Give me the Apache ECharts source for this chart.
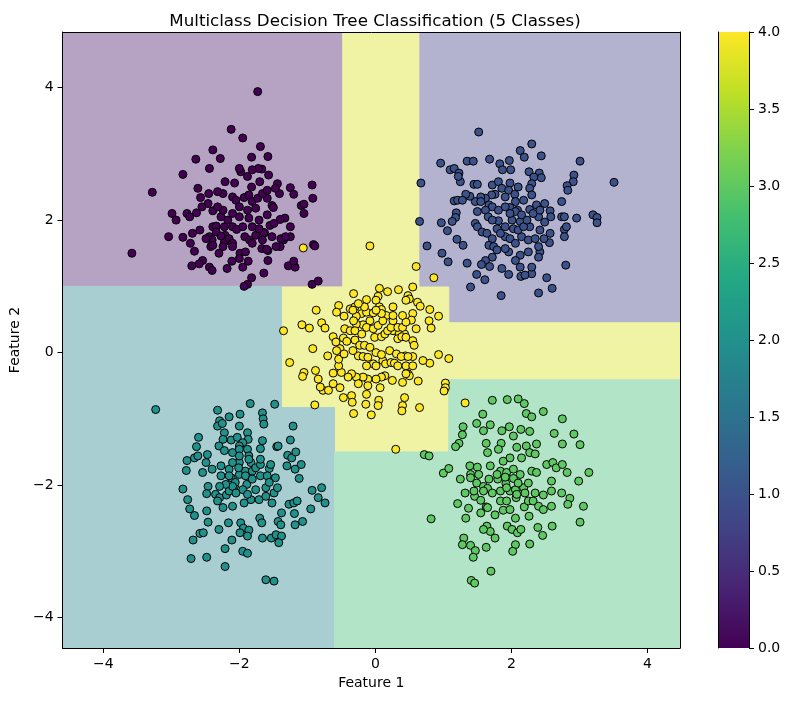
<!DOCTYPE html>
<html>
<head>
<meta charset="utf-8">
<script src="https://cdn.jsdelivr.net/npm/echarts@6/dist/echarts.min.js"></script>
<style>
html,body{margin:0;padding:0;background:#fff;}
#chart{width:790px;height:701px;}
</style>
</head>
<body>
<div id="chart"></div>
<script>
// ---------------- data ----------------
const chartTitle = 'Multiclass Decision Tree Classification (5 Classes)';
const xName = 'Feature 1';
const yName = 'Feature 2';
const xRange = [-4.60, 4.48];
const yRange = [-4.46, 4.84];
const tickValues = [-4, -2, 0, 2, 4];
const colorbarRange = [0, 4];

// decision regions: [x0, y0, x1, y1, class]
const regionRects = [
  [-5, 1.0, -0.48, 5, 0],
  [-0.48, 0.99, 0.655, 5, 4],
  [0.655, 0.99, 5, 5, 1],
  [1.08, 0.45, 5, 0.99, 1],
  [-1.38, -0.83, 1.08, 0.99, 4],
  [1.08, -0.41, 5, 0.45, 4],
  [-0.6, -1.50, 1.08, -0.83, 4],
  [-5, -5, -1.38, 1.0, 2],
  [-1.38, -5, -0.6, -0.83, 2],
  [-0.6, -5, 5, -1.50, 3],
  [1.08, -1.50, 5, -0.41, 3]
];

const class0 = [[-1.73,3.94],[-2.12,3.37],[-1.95,3.24],[-2.39,3.06],[-2.28,2.93],[-2.64,2.92],[-2.44,2.78],[-1.69,3.11],[-1.82,2.95],[-1.58,2.96],[-2.83,2.69],[-3.28,2.42],[-3.58,1.5],[-0.93,2.53],[-0.92,2.33],[-1.09,2.22],[-1.05,2.24],[-1.05,2.10],[-1.25,2.49],[-1.2,2.39],[-1.44,2.55],[-3.04,1.75],[-2.99,2.10],[-2.93,2.0],[-2.83,1.74],[-2.77,2.10],[-2.73,2.05],[-2.63,2.11],[-2.69,1.80],[-2.72,1.65],[-2.66,1.53],[-2.58,1.85],[-2.54,1.39],[-2.59,1.34],[-2.70,1.31],[-2.44,1.29],[-2.40,1.24],[-2.18,1.27],[-2.11,1.38],[-1.95,1.29],[-1.87,1.38],[-1.82,1.13],[-1.88,1.03],[-1.93,1.0],[-1.64,1.20],[-1.58,1.39],[-1.28,1.31],[-1.18,1.29],[-1.2,1.38],[-0.91,1.63],[-0.89,1.61],[-0.93,1.03],[-0.84,1.08],[-1.35,1.70],[-1.40,1.60],[-1.25,1.75],[-1.33,2.03],[-1.40,2.01],[-1.58,1.54],[-1.67,1.57],[-1.63,1.81],[-1.25,1.90],[-1.52,2.22],[-1.50,2.19],[-1.59,2.08],[-1.41,2.40],[-1.57,2.68],[-1.59,2.33],[-1.70,2.58],[-1.67,2.77],[-1.72,2.78],[-1.81,2.76],[-1.88,2.66],[-1.98,2.73],[-2.0,2.78],[-2.07,2.56],[-2.21,2.58],[-2.24,2.40],[-2.32,2.43],[-2.45,2.40],[-2.61,2.48],[-2.57,2.34],[-2.46,2.25],[-2.55,2.20],[-2.39,2.14],[-2.27,2.05],[-2.39,1.90],[-2.34,1.91],[-2.44,1.75],[-2.40,1.70],[-2.49,1.72],[-2.42,1.60],[-2.22,1.90],[-2.21,1.77],[-2.22,1.67],[-2.15,1.72],[-2.10,1.65],[-2.10,1.60],[-1.99,1.50],[-2.0,1.42],[-1.91,1.52],[-2.10,1.90],[-2.04,1.86],[-1.92,1.75],[-1.85,1.70],[-1.76,1.77],[-1.81,1.65],[-1.64,1.81],[-1.66,1.70],[-1.60,1.56],[-1.52,1.75],[-1.46,1.60],[-1.39,1.72],[-1.32,1.75],[-1.55,1.92],[-1.49,1.95],[-2.10,2.35],[-2.05,2.30],[-1.93,2.34],[-1.86,2.38],[-1.82,2.50],[-1.81,2.28],[-1.73,2.33],[-1.66,2.40],[-1.59,2.45],[-1.47,2.48],[-2.0,2.20],[-1.88,2.15],[-1.76,2.18],[-1.86,2.03],[-1.71,2.0],[-2.0,2.05],[-2.10,2.10],[-2.24,2.15],[-2.32,2.20],[-2.17,2.0],[-1.95,1.90],[-1.81,1.90],[-1.71,1.87],[-2.34,1.82],[-2.27,1.76],[-2.39,1.62],[-2.24,1.60],[-2.30,1.50]];

const class1 = [[1.52,3.33],[2.30,3.15],[2.13,3.05],[2.19,2.95],[2.44,2.97],[0.96,2.86],[1.35,2.89],[1.44,2.89],[1.68,2.92],[1.83,2.85],[1.97,2.90],[1.99,2.76],[1.87,2.76],[3.01,2.89],[1.10,2.76],[1.16,2.78],[1.23,2.71],[1.25,2.58],[1.22,2.66],[2.26,2.73],[2.41,2.71],[2.44,2.64],[2.33,2.65],[2.92,2.68],[2.91,2.58],[2.82,2.52],[2.83,2.45],[3.51,2.57],[0.67,2.56],[1.45,2.54],[1.50,2.54],[1.72,2.53],[1.81,2.58],[1.98,2.56],[2.10,2.50],[2.30,2.55],[2.27,2.48],[2.30,2.38],[1.86,2.48],[1.96,2.45],[2.05,2.39],[1.91,2.35],[1.76,2.39],[1.71,2.38],[1.62,2.33],[1.55,2.35],[1.47,2.28],[1.39,2.36],[1.33,2.39],[1.16,2.29],[1.21,2.30],[1.28,2.30],[2.18,2.30],[2.06,2.28],[1.98,2.19],[2.09,2.15],[2.27,2.16],[2.37,2.23],[2.49,2.25],[2.57,2.14],[2.74,2.28],[2.74,2.05],[2.78,2.05],[2.96,2.03],[3.20,2.08],[3.26,2.04],[3.26,1.96],[1.67,2.23],[1.72,2.20],[1.62,2.15],[1.66,2.05],[1.19,2.11],[1.18,2.04],[1.13,1.98],[0.97,1.96],[0.65,1.98],[1.47,1.95],[1.50,1.90],[1.57,1.82],[1.64,1.80],[1.81,1.99],[1.91,1.90],[2.01,2.0],[2.13,1.98],[2.27,1.90],[2.42,1.85],[2.58,2.05],[2.57,1.80],[2.40,2.05],[2.49,1.97],[1.06,1.84],[1.20,1.71],[1.29,1.62],[0.76,1.61],[0.98,1.50],[1.07,1.37],[1.35,1.35],[1.49,1.18],[1.61,1.10],[1.40,0.99],[1.85,0.86],[1.72,1.72],[1.67,1.62],[1.74,1.60],[1.79,1.55],[1.72,1.44],[1.62,1.39],[1.56,1.33],[1.68,1.30],[1.86,1.27],[1.96,1.18],[2.14,1.15],[2.30,1.19],[2.20,1.17],[1.91,1.75],[1.98,1.72],[2.06,1.65],[2.15,1.75],[2.25,1.70],[2.35,1.72],[2.42,1.52],[2.40,1.44],[2.25,1.52],[2.13,1.47],[2.06,1.39],[1.96,1.52],[1.91,1.57],[2.78,1.86],[2.81,1.90],[2.78,1.75],[2.56,1.66],[2.48,1.72],[2.80,1.32],[2.52,1.13],[2.60,0.97],[2.40,0.90],[1.72,2.0],[1.79,1.87],[1.84,1.80],[2.03,1.87],[2.10,1.85],[2.18,1.90],[2.23,2.0],[2.32,2.10],[2.42,2.15],[1.81,2.15],[1.91,2.20],[2.06,2.13],[2.15,2.08],[1.98,2.10],[1.55,2.28],[1.50,2.13],[2.13,1.29],[2.30,1.29],[2.40,1.60]];

const class2 = [[-3.23,-0.86],[-1.84,-0.77],[-1.48,-0.78],[-2.32,-0.87],[-2.15,-0.97],[-1.99,-0.93],[-1.66,-0.91],[-1.65,-1.0],[-1.64,-1.08],[-2.29,-1.03],[-2.32,-1.11],[-2.25,-1.07],[-2.0,-1.11],[-1.21,-1.11],[-2.22,-1.21],[-2.24,-1.31],[-2.12,-1.32],[-2.03,-1.28],[-1.88,-1.21],[-1.87,-1.31],[-1.95,-1.36],[-2.0,-1.41],[-2.60,-1.28],[-2.63,-1.42],[-2.66,-1.59],[-2.77,-1.63],[-2.78,-1.78],[-2.54,-1.81],[-2.61,-1.56],[-2.47,-1.54],[-2.49,-1.66],[-2.30,-1.41],[-2.22,-1.48],[-2.10,-1.51],[-2.0,-1.46],[-1.88,-1.46],[-1.86,-1.56],[-1.69,-1.45],[-1.66,-1.33],[-1.45,-1.42],[-1.43,-1.41],[-1.25,-1.32],[-1.29,-1.55],[-1.23,-1.59],[-1.17,-1.50],[-1.30,-1.71],[-1.18,-1.76],[-1.09,-1.69],[-1.12,-1.90],[-2.40,-1.76],[-2.27,-1.71],[-2.27,-1.86],[-2.15,-1.76],[-2.12,-1.89],[-2.0,-1.66],[-2.0,-1.84],[-1.91,-1.79],[-1.81,-1.79],[-1.83,-1.66],[-1.76,-1.74],[-1.69,-1.69],[-1.69,-1.86],[-1.56,-1.75],[-1.54,-1.69],[-1.47,-1.89],[-1.59,-1.86],[-1.69,-1.61],[-1.86,-1.61],[-2.0,-1.56],[-2.10,-1.66],[-2.83,-2.06],[-2.46,-2.02],[-2.48,-2.13],[-2.35,-2.14],[-2.29,-2.19],[-2.19,-2.15],[-2.15,-2.09],[-2.07,-2.01],[-1.89,-1.99],[-1.95,-2.07],[-2.06,-1.96],[-1.83,-2.22],[-1.93,-2.27],[-2.10,-2.32],[-2.24,-2.34],[-2.32,-2.24],[-1.71,-2.22],[-1.61,-2.04],[-1.49,-2.12],[-1.52,-2.27],[-1.44,-2.04],[-1.27,-2.29],[-1.20,-2.27],[-1.15,-2.24],[-0.93,-2.08],[-0.79,-2.04],[-0.84,-2.19],[-0.74,-2.27],[-0.95,-2.36],[-1.38,-2.42],[-1.19,-2.43],[-1.07,-2.55],[-1.18,-2.60],[-1.43,-2.55],[-1.39,-2.60],[-1.70,-2.50],[-1.67,-2.57],[-1.98,-2.57],[-1.94,-2.65],[-1.86,-2.68],[-1.99,-2.72],[-1.88,-2.77],[-1.66,-2.80],[-1.53,-2.80],[-1.46,-2.75],[-1.38,-2.77],[-1.42,-2.87],[-2.16,-2.57],[-2.30,-2.67],[-2.46,-2.56],[-2.48,-2.39],[-2.76,-2.22],[-2.73,-2.36],[-2.66,-2.46],[-2.68,-2.83],[-2.58,-2.73],[-2.53,-2.72],[-2.11,-2.83],[-2.21,-2.96],[-1.95,-3.0],[-1.88,-3.03],[-2.71,-3.11],[-2.48,-3.09],[-2.21,-3.23],[-1.61,-3.43],[-1.49,-3.45],[-2.15,-1.86],[-2.01,-1.74],[-1.91,-1.86],[-1.81,-1.91],[-2.10,-2.02],[-2.05,-2.12],[-1.88,-2.14],[-1.76,-2.07],[-1.61,-2.17],[-1.56,-1.96],[-2.20,-1.99],[-2.29,-2.02]];

const class3 = [[1.72,-0.72],[1.94,-0.71],[2.10,-0.70],[2.19,-0.77],[2.47,-0.89],[2.22,-0.92],[2.30,-0.97],[2.75,-1.0],[1.58,-0.93],[1.69,-1.09],[1.49,-1.07],[1.29,-1.12],[1.28,-1.24],[1.59,-1.18],[1.86,-1.18],[1.97,-1.12],[2.03,-1.26],[2.14,-1.16],[2.27,-1.19],[1.85,-1.37],[1.81,-1.46],[1.63,-1.37],[1.65,-1.51],[1.23,-1.37],[1.18,-1.42],[2.63,-1.22],[2.92,-1.23],[2.75,-1.38],[3.01,-1.39],[2.37,-1.38],[2.22,-1.41],[2.08,-1.43],[2.27,-1.51],[2.35,-1.53],[2.15,-1.59],[1.98,-1.59],[1.88,-1.64],[0.72,-1.54],[0.79,-1.56],[1.0,-1.82],[1.08,-1.75],[1.39,-1.71],[1.50,-1.73],[1.40,-1.84],[1.69,-1.71],[1.84,-1.79],[1.93,-1.81],[2.03,-1.76],[2.13,-1.84],[2.30,-1.79],[2.37,-1.81],[2.52,-1.69],[2.61,-1.66],[2.66,-1.74],[2.75,-1.69],[2.82,-1.81],[2.99,-1.94],[3.14,-1.81],[1.25,-1.91],[1.49,-1.97],[1.59,-2.02],[1.65,-2.05],[1.80,-1.91],[1.92,-1.98],[1.98,-2.09],[2.06,-2.07],[2.18,-2.04],[2.25,-1.97],[2.35,-2.12],[2.47,-2.15],[2.59,-1.94],[2.59,-2.09],[2.74,-2.12],[2.86,-2.20],[2.83,-2.29],[3.06,-2.32],[3.01,-2.56],[1.32,-2.12],[1.46,-2.17],[1.55,-2.23],[1.21,-2.28],[1.37,-2.35],[1.63,-2.33],[1.84,-2.24],[1.93,-2.24],[2.07,-2.19],[2.19,-2.33],[2.25,-2.24],[2.32,-2.24],[2.40,-2.32],[2.47,-2.37],[2.59,-2.32],[2.26,-2.47],[2.39,-2.64],[2.46,-2.76],[2.60,-2.62],[0.82,-2.51],[1.33,-2.50],[1.55,-2.42],[1.65,-2.34],[1.76,-2.45],[1.88,-2.38],[1.98,-2.37],[2.06,-2.50],[1.94,-2.62],[2.01,-2.67],[2.09,-2.72],[2.14,-2.67],[2.06,-2.90],[2.02,-3.0],[2.27,-2.89],[1.64,-2.62],[1.69,-2.70],[1.59,-2.67],[1.76,-2.80],[1.63,-2.94],[1.30,-2.80],[1.28,-2.90],[1.40,-2.91],[1.47,-2.99],[1.44,-3.09],[1.70,-3.30],[1.41,-3.44],[1.46,-3.48],[1.40,-1.89],[1.52,-1.84],[1.67,-1.91],[1.79,-1.84],[1.91,-1.88],[2.03,-1.90],[2.10,-1.97],[1.84,-2.09],[1.72,-2.12],[1.59,-2.09],[1.45,-2.09],[1.93,-2.04],[2.08,-2.14],[2.20,-2.12]];

const class4 = [[-1.06,1.58],[0.60,1.30],[0.86,1.13],[0.55,0.99],[-0.08,1.61],[0.48,0.86],[0.50,0.81],[0.06,0.97],[0.18,0.92],[0.34,0.95],[0.04,0.85],[-0.32,0.89],[-0.13,0.80],[0.01,0.79],[0.06,0.69],[0.09,0.65],[0.26,0.69],[0.16,0.56],[-0.54,0.71],[-0.57,0.61],[-0.46,0.55],[-0.87,0.64],[-1.08,0.42],[-0.97,0.37],[-0.79,0.45],[-0.74,0.37],[-1.35,0.33],[-0.37,0.66],[-0.30,0.69],[-0.20,0.59],[-0.28,0.55],[-0.13,0.61],[-0.03,0.60],[-0.08,0.48],[-0.18,0.42],[-0.28,0.43],[-0.32,0.48],[0.45,0.79],[0.62,0.76],[0.66,0.70],[0.80,0.65],[0.93,0.55],[0.55,0.59],[0.53,0.49],[0.60,0.36],[0.79,0.48],[0.82,0.37],[-0.62,0.24],[-0.47,0.22],[-0.30,0.19],[-0.42,0.17],[-0.58,0.16],[-0.52,0.06],[-0.01,0.23],[0.09,0.24],[0.14,0.28],[0.26,0.33],[0.35,0.28],[0.43,0.28],[0.33,0.21],[0.39,0.24],[0.45,0.23],[0.55,0.18],[0.57,0.11],[-0.92,0.06],[-0.70,-0.05],[-1.26,-0.15],[-1.05,-0.30],[-0.88,-0.27],[-1.07,-0.36],[-0.84,-0.40],[-0.77,-0.57],[-0.89,-0.79],[-0.52,-0.53],[-0.47,-0.68],[-0.35,-0.65],[-0.34,-0.75],[-0.32,-0.92],[-0.14,-0.78],[-0.06,-0.94],[0.05,-0.72],[0.04,-0.80],[0.07,-0.53],[0.25,-0.42],[0.43,-0.68],[0.40,-0.80],[0.65,-0.83],[0.39,-0.88],[0.63,-0.43],[1.03,-0.46],[1.03,-0.53],[0.93,-0.03],[1.08,-0.09],[0.80,-0.16],[0.70,-0.12],[0.55,-0.06],[0.44,-0.05],[0.30,-1.46],[1.32,-0.76],[1.01,-0.58],[-0.23,0.11],[-0.25,-0.05],[-0.18,-0.06],[-0.11,-0.07],[-0.03,-0.17],[-0.13,-0.20],[0.01,-0.20],[0.11,-0.12],[0.15,-0.17],[0.23,-0.15],[0.28,-0.16],[0.33,-0.20],[0.14,-0.35],[0.09,-0.37],[0.01,-0.40],[-0.11,-0.40],[-0.18,-0.37],[-0.28,-0.37],[-0.35,-0.32],[-0.40,-0.37],[-0.50,-0.30],[-0.62,-0.31],[-0.54,-0.20],[-0.54,-0.10],[-0.57,0.03],[-0.46,-0.02],[-0.33,0.03],[-0.16,0.11],[-0.08,0.08],[0.01,0.0],[0.09,-0.03],[0.21,0.03],[0.31,-0.02],[0.38,-0.06],[0.48,-0.06],[0.48,-0.32],[0.45,-0.20],[-0.13,0.38],[-0.03,0.36],[0.04,0.41],[0.18,0.33],[0.23,0.38],[0.33,0.38],[0.40,0.38],[0.11,0.48],[0.26,0.48],[0.45,0.46],[0.40,0.56],[0.26,0.56],[0.09,0.59],[0.01,0.64],[-0.16,0.69],[-0.25,0.74],[-0.33,0.64],[-0.45,0.36],[-0.37,0.33],[-0.30,0.33],[-0.20,0.28],[0.55,-0.20],[0.50,-0.35],[0.45,-0.32],[0.40,-0.45],[-0.13,-0.63],[-0.25,-0.47],[-0.11,-0.50],[-0.81,-0.52],[-0.62,-0.47],[-0.69,-0.57]];

// ---------------- styles ----------------
const pointColors = ['#440154', '#3b528b', '#21918c', '#5ec962', '#fde725'];
const regionColors = ['#b6a3c3', '#b3b3cf', '#a8ced2', '#b2e4c7', '#eff3a3'];
const viridisStops = ['#440154','#482475','#414487','#355f8d','#2a788e','#21918c','#22a884','#44bf70','#7ad151','#bddf26','#fde725'];
const FONT = 'DejaVu Sans';

// interleave classes (like a shuffled dataset)
const classes = [class0, class1, class2, class3, class4];
const points = [];
const maxLen = Math.max(...classes.map(c => c.length));
for (let i = 0; i < maxLen; i++) {
  for (let k = 0; k < classes.length; k++) {
    if (i < classes[k].length) points.push([classes[k][i][0], classes[k][i][1], k]);
  }
}

const minus = v => String(v).replace('-', '\u2212');

const chart = echarts.init(document.getElementById('chart'), null, {renderer: 'canvas'});
const axisCommon = {
  z: 10,
  axisLine: {show: true, onZero: false, lineStyle: {color: '#000', width: 1}},
  axisTick: {show: true, inside: false, length: 5, lineStyle: {color: '#000', width: 1}},
  splitLine: {show: false},
  axisLabel: {color: '#000', fontSize: 14, fontFamily: FONT, margin: 9}
};

chart.setOption({
  animation: false,
  backgroundColor: '#fff',
  title: {
    text: chartTitle,
    left: 370, top: 8, textAlign: 'center',
    textStyle: {fontSize: 16.7, fontWeight: 'normal', color: '#000', fontFamily: FONT}
  },
  grid: [
    {left: 60, right: 110, top: 32, bottom: 53, containLabel: false},
    {left: 718, width: 31, top: 32, bottom: 53, containLabel: false}
  ],
  xAxis: [
    Object.assign({}, axisCommon, {
      gridIndex: 0, type: 'value', min: xRange[0], max: xRange[1], position: 'bottom',
      name: xName, nameLocation: 'middle', nameGap: 28,
      nameTextStyle: {fontSize: 14, fontFamily: FONT, color: '#000'},
      axisTick: Object.assign({}, axisCommon.axisTick, {customValues: tickValues}),
      axisLabel: Object.assign({}, axisCommon.axisLabel, {customValues: tickValues, formatter: minus})
    }),
    {gridIndex: 0, type: 'value', min: xRange[0], max: xRange[1], position: 'top', z: 10,
     axisLine: {show: true, onZero: false, lineStyle: {color: '#000'}}, axisTick: {show: false}, axisLabel: {show: false}, splitLine: {show: false}},
    {gridIndex: 1, type: 'value', min: 0, max: 1, show: false}
  ],
  yAxis: [
    Object.assign({}, axisCommon, {
      gridIndex: 0, type: 'value', min: yRange[0], max: yRange[1], position: 'left',
      name: yName, nameLocation: 'middle', nameGap: 36, nameRotate: 90,
      nameTextStyle: {fontSize: 14, fontFamily: FONT, color: '#000'},
      axisTick: Object.assign({}, axisCommon.axisTick, {customValues: tickValues}),
      axisLabel: Object.assign({}, axisCommon.axisLabel, {customValues: tickValues, formatter: minus})
    }),
    {gridIndex: 0, type: 'value', min: yRange[0], max: yRange[1], position: 'right', z: 10,
     axisLine: {show: true, onZero: false, lineStyle: {color: '#000'}}, axisTick: {show: false}, axisLabel: {show: false}, splitLine: {show: false}},
    Object.assign({}, axisCommon, {
      gridIndex: 1, type: 'value', min: colorbarRange[0], max: colorbarRange[1], interval: 0.5, position: 'right',
      axisLabel: Object.assign({}, axisCommon.axisLabel, {formatter: v => v.toFixed(1)})
    }),
    {gridIndex: 1, type: 'value', min: colorbarRange[0], max: colorbarRange[1], position: 'left', z: 10,
     axisLine: {show: true, onZero: false, lineStyle: {color: '#000'}}, axisTick: {show: false}, axisLabel: {show: false}, splitLine: {show: false}}
  ],
  series: [
    {
      type: 'custom', xAxisIndex: 0, yAxisIndex: 0, clip: true, z: 1,
      data: regionRects,
      renderItem: function (params, api) {
        const p0 = api.coord([api.value(0), api.value(1)]);
        const p1 = api.coord([api.value(2), api.value(3)]);
        const c = regionColors[api.value(4)];
        return {
          type: 'rect',
          shape: {x: p0[0], y: p1[1], width: p1[0] - p0[0], height: p0[1] - p1[1]},
          style: {fill: c, stroke: c, lineWidth: 1}
        };
      }
    },
    {
      type: 'scatter', xAxisIndex: 0, yAxisIndex: 0, z: 3,
      data: points, symbol: 'circle', symbolSize: 8,
      itemStyle: {
        color: p => pointColors[p.data[2]],
        borderColor: '#000', borderWidth: 1, opacity: 1
      },
      emphasis: {disabled: true}
    },
    {
      type: 'custom', xAxisIndex: 2, yAxisIndex: 2, clip: true, z: 1,
      data: [[0, colorbarRange[0], 1, colorbarRange[1]]],
      renderItem: function (params, api) {
        const p0 = api.coord([api.value(0), api.value(1)]);
        const p1 = api.coord([api.value(2), api.value(3)]);
        return {
          type: 'rect',
          shape: {x: p0[0], y: p1[1], width: p1[0] - p0[0], height: p0[1] - p1[1]},
          style: {
            fill: {
              type: 'linear', x: 0, y: 1, x2: 0, y2: 0,
              colorStops: viridisStops.map((c, i) => ({offset: i / (viridisStops.length - 1), color: c}))
            }
          }
        };
      }
    }
  ]
});
</script>
</body>
</html>
